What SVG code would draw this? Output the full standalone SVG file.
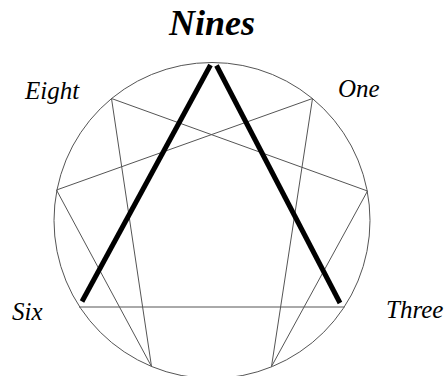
<svg xmlns="http://www.w3.org/2000/svg" width="446" height="376" viewBox="0 0 446 376">
<style>
.thin{stroke:#555;stroke-width:1;fill:none}
.thick{stroke:#000;stroke-width:5;stroke-linecap:butt;fill:none}
.lbl{font-family:"Liberation Serif","Times New Roman",serif;font-style:italic;font-size:25px;fill:#000}
.title{font-family:"Liberation Serif","Times New Roman",serif;font-style:italic;font-weight:bold;font-size:36px;fill:#000}
</style>
<rect width="446" height="376" fill="#fff"/>
<g id="circle"><circle class="thin" cx="212" cy="220.5" r="158"/></g>
<g id="connectors">
<line class="thin" x1="79" y1="307" x2="344.5" y2="307"/>
<line class="thin" x1="312.5" y1="98.5" x2="271.5" y2="366.5"/>
<line class="thin" x1="271.5" y1="366.5" x2="367.5" y2="191"/>
<line class="thin" x1="367.5" y1="191" x2="111.5" y2="98.5"/>
<line class="thin" x1="111.5" y1="98.5" x2="151.5" y2="366.5"/>
<line class="thin" x1="151.5" y1="366.5" x2="56.5" y2="190"/>
<line class="thin" x1="56.5" y1="190" x2="312.5" y2="98.5"/>
<line class="thick" x1="210.5" y1="65" x2="82" y2="301.5"/>
<line class="thick" x1="216.5" y1="65.5" x2="340" y2="303"/>
</g>
<g id="title"><text class="title" x="212" y="35" text-anchor="middle">Nines</text></g>
<g id="eight"><text class="lbl" x="25" y="99">Eight</text></g>
<g id="one"><text class="lbl" x="338" y="97">One</text></g>
<g id="six"><text class="lbl" x="12" y="320">Six</text></g>
<g id="three"><text class="lbl" x="386" y="318">Three</text></g>
</svg>
